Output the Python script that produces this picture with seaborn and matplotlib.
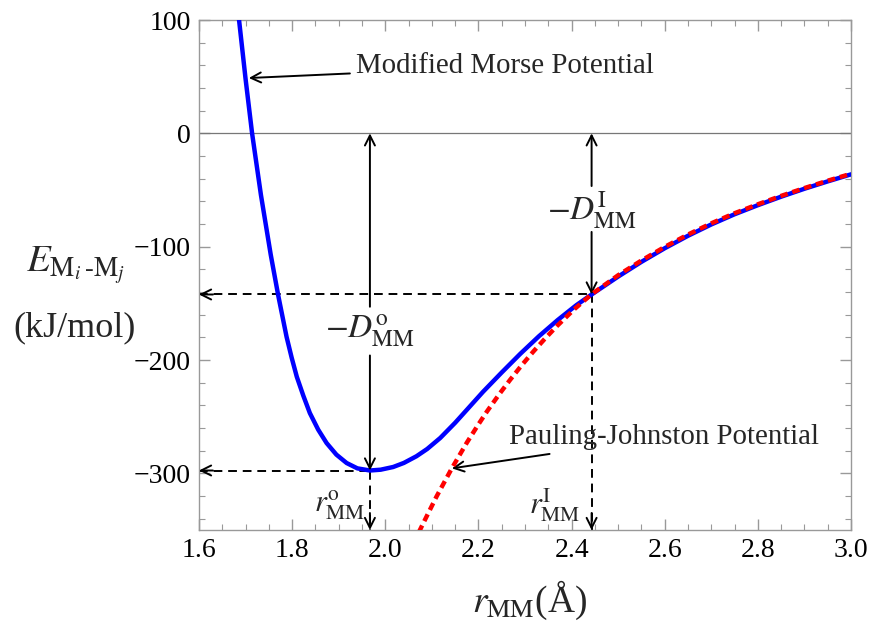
import matplotlib
matplotlib.use("Agg")
import numpy as np
import pandas as pd
import seaborn as sns
import matplotlib.pyplot as plt
from matplotlib.ticker import MultipleLocator

# ---- data ----
morse_r = [1.686, 1.700, 1.714, 1.733, 1.754, 1.770, 1.788, 1.799, 1.810, 1.824,
           1.838, 1.856, 1.874, 1.895, 1.917, 1.940, 1.967, 1.990, 2.017, 2.040,
           2.067, 2.090, 2.118, 2.150, 2.175, 2.210, 2.250, 2.290, 2.330, 2.370,
           2.410, 2.443, 2.500, 2.550, 2.600, 2.650, 2.700, 2.750, 2.800, 2.850,
           2.900, 2.950, 3.000]
morse_E = [100, 48, 0, -54.4, -107, -142.8, -179.5, -198, -214.8, -231.5,
           -246.8, -261.5, -273.3, -283.5, -290.9, -295.6, -297.5, -296.8, -294.4, -290.8,
           -284.9, -278.5, -268.8, -255.4, -244, -228, -211, -194.5, -179, -164.8,
           -151.7, -142.2, -126.4, -113.4, -101.4, -90.4, -80.4, -71.4, -63.4, -55.9,
           -48.9, -42.4, -36.2]
pj_r = [2.072, 2.090, 2.110, 2.143, 2.175, 2.200, 2.218, 2.245, 2.268, 2.293,
        2.318, 2.343, 2.368, 2.405, 2.443, 2.500, 2.550, 2.600, 2.650, 2.700,
        2.750, 2.800, 2.850, 2.900, 2.950, 3.000]
pj_E = [-352, -337, -320.5, -295.5, -273, -256.8, -245.6, -230, -217.5, -204.6,
        -192.5, -181.1, -170.3, -155.5, -142.0, -125.2, -112.2, -100.2, -89.3, -79.4,
        -70.5, -62.6, -55.2, -48.3, -41.8, -35.7]
r_o, E_o = 1.967, -297.5
r_I, E_I = 2.443, -142.2
x_ticks = [1.6, 1.8, 2.0, 2.2, 2.4, 2.6, 2.8, 3.0]
x_tick_labels = ["1.6", "1.8", "2.0", "2.2", "2.4", "2.6", "2.8", "3.0"]
y_ticks = [-300, -200, -100, 0, 100]
y_tick_labels = ["\u2212300", "\u2212200", "\u2212100", "0", "100"]

sns.set_theme(style="ticks")
plt.rcParams['font.family'] = ['Liberation Serif', 'DejaVu Serif']
plt.rcParams['mathtext.fontset'] = 'stix'

fig = plt.figure(figsize=(8.71, 6.28), dpi=100)
ax = fig.add_axes([199/871, 1-530/628, 652/871, 510/628])

df_m = pd.DataFrame({"r": morse_r, "E": morse_E})
df_p = pd.DataFrame({"r": pj_r, "E": pj_E})
sns.lineplot(data=df_m, x="r", y="E", color="#0000ff", lw=3.2, ax=ax, zorder=3)
sns.lineplot(data=df_p, x="r", y="E", color="#ff0000", lw=3.2, ax=ax, zorder=4,
             linestyle=(0, (1.7, 1.1)))

ax.set_xlim(1.6, 3.0)
ax.set_ylim(-350, 100)
ax.axhline(0, color="#777777", lw=0.9, zorder=1)

# axes styling
for s in ax.spines.values():
    s.set_color("#999999")
    s.set_linewidth(1.0)
ax.set_xticks(x_ticks)
ax.set_xticklabels(x_tick_labels)
ax.set_yticks(y_ticks)
ax.set_yticklabels(y_tick_labels)
ax.xaxis.set_minor_locator(MultipleLocator(0.05))
ax.yaxis.set_minor_locator(MultipleLocator(20))
ax.tick_params(which="both", direction="in", top=True, right=True,
               color="#999999", labelsize=20, labelcolor="black")
ax.tick_params(which="major", length=8, width=1.0, pad=6)
ax.tick_params(which="minor", length=4, width=0.8)
ax.set_xlabel("")
ax.set_ylabel("")

ap = dict(arrowstyle="->", color="black", lw=1.4, shrinkA=0, shrinkB=0,
          mutation_scale=18)
# solid vertical arrows (D labels)
ax.annotate("", xy=(r_o, 0), xytext=(r_o, -153), arrowprops=ap)
ax.annotate("", xy=(r_o, E_o), xytext=(r_o, -196), arrowprops=ap)
ax.annotate("", xy=(r_I, 0), xytext=(r_I, -46.5), arrowprops=ap)
ax.annotate("", xy=(r_I, E_I), xytext=(r_I, -87), arrowprops=ap)

# dashed guide lines
dash = (0, (4.5, 3))
ax.plot([1.6, r_o], [E_o, E_o], color="black", lw=1.4, ls=dash, zorder=2)
ax.plot([1.6, r_I], [E_I, E_I], color="black", lw=1.4, ls=dash, zorder=2)
ax.plot([r_o, r_o], [E_o, -350], color="black", lw=1.4, ls=dash, zorder=2)
ax.plot([r_I, r_I], [E_I, -350], color="black", lw=1.4, ls=dash, zorder=2)
# arrow heads at the ends of the dashed lines
ax.annotate("", xy=(1.6, E_o), xytext=(1.63, E_o), arrowprops=ap)
ax.annotate("", xy=(1.6, E_I), xytext=(1.63, E_I), arrowprops=ap)
ax.annotate("", xy=(r_o, -350), xytext=(r_o, -335), arrowprops=ap)
ax.annotate("", xy=(r_I, -350), xytext=(r_I, -335), arrowprops=ap)

# labels
ax.text(r_o, -174, r"$-D_{\rm MM}^{\rm o}$", ha="center", va="center", fontsize=24)
ax.text(r_I, -68, r"$-D_{\rm MM}^{\rm I}$", ha="center", va="center", fontsize=24)
ax.text(1.903, -328, r"$r_{\rm MM}^{\rm o}$", ha="center", va="center", fontsize=22)
ax.text(2.364, -328, r"$r_{\rm MM}^{\rm I}$", ha="center", va="center", fontsize=22)

# curve annotations
ax.annotate("Modified Morse Potential", xy=(1.707, 48.8), xytext=(1.937, 59),
            ha="left", va="center", fontsize=20.8,
            arrowprops=dict(arrowstyle="->", color="black", lw=1.4, shrinkA=2,
                            shrinkB=0, mutation_scale=18))
ax.annotate("Pauling-Johnston Potential", xy=(2.143, -295.6), xytext=(2.266, -268),
            ha="left", va="center", fontsize=20.8,
            arrowprops=dict(arrowstyle="->", color="black", lw=1.4, shrinkA=3,
                            shrinkB=0, mutation_scale=18))

# axis titles
fig.text(530/871, 1-600/628, r"$r_{\rm MM}$(Å)", ha="center", va="center", fontsize=27)
fig.text(76/871, 1-265/628, r"$E_{{\rm M}_i\,\text{-}{\rm M}_j}$", ha="center", va="center",
         fontsize=28)
fig.text(75/871, 1-328/628, "(kJ/mol)", ha="center", va="center", fontsize=26)

fig.savefig("out.png", dpi=100)
